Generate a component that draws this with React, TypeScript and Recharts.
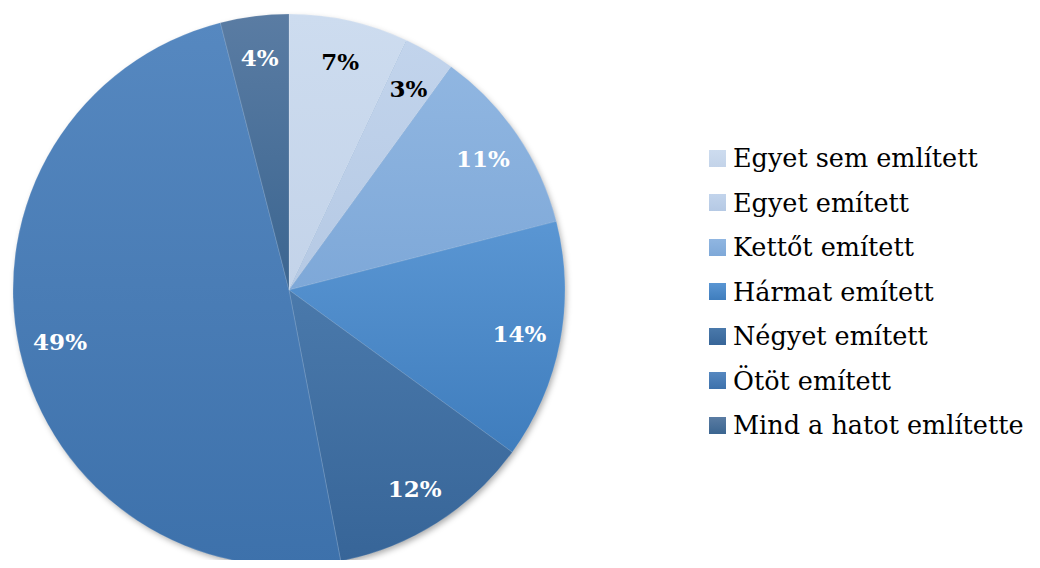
import React from 'react';
import { PieChart, Pie, Cell, Legend } from 'recharts';

const categories = [
  'Egyet sem említett',
  'Egyet emített',
  'Kettőt emített',
  'Hármat emített',
  'Négyet emített',
  'Ötöt emített',
  'Mind a hatot említette',
];
const shares = [7, 3, 11, 14, 12, 49, 4];
const topColors = ['#cddcef', '#c2d4ec', '#90b6e1', '#5a96d3', '#4a79ab', '#5688c0', '#5a7ca3'];
const bottomColors = ['#c3d3e9', '#b5c9e4', '#7ea8d8', '#3f7dbd', '#376598', '#3d71ab', '#3b6590'];
const labelColors = ['#000', '#000', '#fff', '#fff', '#fff', '#fff', '#fff'];

const data = categories.map((name, i) => ({ name, value: shares[i] }));

const FONT = '"DejaVu Serif", "Liberation Serif", serif';
const RAD = Math.PI / 180;

const renderLabel = (props: any) => {
  const { cx, cy, midAngle, outerRadius, index, value } = props;
  const r = outerRadius * 0.85;
  const x = cx + r * Math.cos(-midAngle * RAD);
  const y = cy + r * Math.sin(-midAngle * RAD);
  return (
    <text
      x={x}
      y={y}
      fill={labelColors[index]}
      textAnchor="middle"
      dominantBaseline="central"
      fontFamily={FONT}
      fontWeight="bold"
      fontSize={23}
    >
      {value}%
    </text>
  );
};

const renderLegend = () => (
  <div style={{ fontFamily: FONT, fontSize: 25.5, color: '#000' }}>
    {categories.map((c, i) => (
      <div key={c} style={{ display: 'flex', alignItems: 'center', height: 44.5, whiteSpace: 'nowrap' }}>
        <span
          style={{
            display: 'inline-block',
            width: 17,
            height: 17,
            marginRight: 7,
            background: `linear-gradient(${topColors[i]}, ${bottomColors[i]})`,
          }}
        />
        <span>{c}</span>
      </div>
    ))}
  </div>
);

export default function App() {
  return (
    <div style={{ margin: -8 }}>
      <PieChart width={1040} height={568} margin={{ top: 0, right: 0, bottom: 0, left: 0 }}>
        <defs>
          {categories.map((_, i) => (
            <linearGradient key={i} id={`g${i}`} x1="0" y1="0" x2="0" y2="1">
              <stop offset="0%" stopColor={topColors[i]} />
              <stop offset="100%" stopColor={bottomColors[i]} />
            </linearGradient>
          ))}
          <filter id="shadow" x="-10%" y="-10%" width="120%" height="120%">
            <feDropShadow dx="2" dy="3" stdDeviation="3" floodColor="#000" floodOpacity="0.35" />
          </filter>
        </defs>
        <Pie
          data={[{ name: 'bg', value: 1 }]}
          dataKey="value"
          cx={289}
          cy={290}
          outerRadius={275}
          stroke="none"
          isAnimationActive={false}
          legendType="none"
        >
          <Cell fill="#4a7bb3" filter="url(#shadow)" />
        </Pie>
        <Pie
          data={data}
          dataKey="value"
          nameKey="name"
          cx={289}
          cy={290}
          outerRadius={276}
          startAngle={90}
          endAngle={-270}
          stroke="rgba(255,255,255,0.25)"
          strokeWidth={0.6}
          label={renderLabel}
          labelLine={false}
          isAnimationActive={false}
        >
          {data.map((_, i) => (
            <Cell key={i} fill={`url(#g${i})`} />
          ))}
        </Pie>
        <Legend
          layout="vertical"
          align="right"
          verticalAlign="top"
          content={renderLegend}
          wrapperStyle={{ left: 709, top: 136, width: 331 }}
        />
      </PieChart>
    </div>
  );
}
